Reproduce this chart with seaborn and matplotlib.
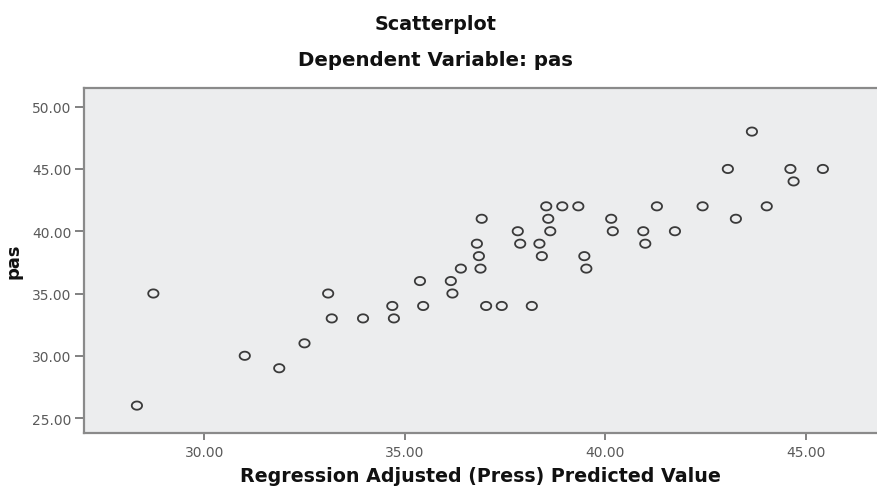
import numpy as np
import pandas as pd
import matplotlib
matplotlib.use("Agg")
import matplotlib.pyplot as plt
import seaborn as sns
from matplotlib.path import Path

# Data
predicted = [28.32, 28.73, 31.01, 31.87, 32.50, 33.09, 33.18, 33.96, 34.69, 34.73,
             35.38, 35.46, 36.15, 36.19, 36.40, 36.80, 36.85, 36.89, 36.92, 37.03,
             37.42, 37.82, 37.88, 38.17, 38.36, 38.42, 38.53, 38.58, 38.63, 38.93,
             39.33, 39.48, 39.53, 40.15, 40.19, 40.95, 41.00, 41.29, 41.74, 42.43,
             43.06, 43.26, 43.66, 44.03, 44.62, 44.70, 45.43]
pas = [26, 35, 30, 29, 31, 35, 33, 33, 34, 33,
       36, 34, 36, 35, 37, 39, 38, 37, 41, 34,
       34, 40, 39, 34, 39, 38, 42, 41, 40, 42,
       42, 38, 37, 41, 40, 40, 39, 42, 40, 42,
       45, 41, 48, 42, 45, 44, 45]
x_ticks = [30, 35, 40, 45]
y_ticks = [25, 30, 35, 40, 45, 50]

df = pd.DataFrame({"pred": predicted, "pas": pas})

sns.set_theme(style="white")
plt.rcParams["font.family"] = ["DejaVu Sans"]

fig = plt.figure(figsize=(8.77, 4.89), dpi=100)
ax = fig.add_axes([84/877, 1-434/489, 1-84/877, (434-89)/489])
ax.set_facecolor("#ECEDEE")

# slightly wide ellipse marker
t = np.linspace(0, 2*np.pi, 60)
ell = Path(np.column_stack([np.cos(t), 0.8*np.sin(t)]), closed=True)

sns.scatterplot(data=df, x="pred", y="pas", ax=ax, marker=ell, s=55,
                facecolor="none", edgecolor="#3a3a3a", linewidth=1.3)

ax.set_xlim(27.0, 46.78)
ax.set_ylim(23.8, 51.5)
ax.set_xticks(x_ticks)
ax.set_yticks(y_ticks)
ax.set_xticklabels([f"{v:.2f}" for v in x_ticks])
ax.set_yticklabels([f"{v:.2f}" for v in y_ticks])
ax.tick_params(axis="x", which="major", length=5, width=1.3, color="#777777",
               labelcolor="#5a5a5a", labelsize=10, direction="out", pad=3.5,
               bottom=True)
ax.tick_params(axis="y", which="major", length=6.5, width=1.3, color="#777777",
               labelcolor="#5a5a5a", labelsize=10, direction="out", pad=2.5,
               left=True)
for side in ["left", "bottom", "top"]:
    ax.spines[side].set_color("#8a8a8a")
    ax.spines[side].set_linewidth(1.6)
ax.spines["right"].set_visible(False)

ax.set_xlabel("Regression Adjusted (Press) Predicted Value", fontsize=13.7,
              fontweight="bold", color="#111111", labelpad=5)
ax.set_ylabel("pas", fontsize=13, fontweight="bold", color="#111111", labelpad=7)

fig.text(0.497, 1-25/489, "Scatterplot", ha="center", va="center",
         fontsize=13.8, fontweight="bold", color="#111111")
fig.text(0.497, 1-60/489, "Dependent Variable: pas", ha="center", va="center",
         fontsize=14.2, fontweight="bold", color="#111111")

fig.savefig("out.png", dpi=100)
